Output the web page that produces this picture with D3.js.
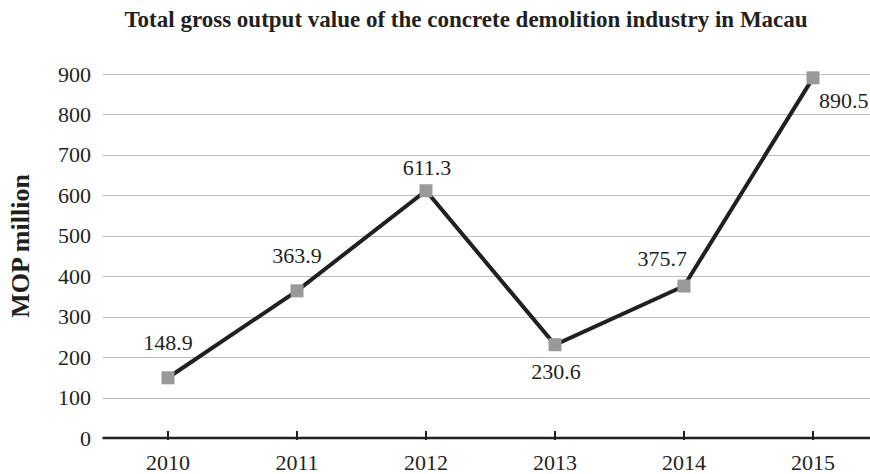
<!DOCTYPE html>
<html>
<head>
<meta charset="utf-8">
<script src="https://cdn.jsdelivr.net/npm/d3@7"></script>
<style>
  body { margin: 0; background: #fff; }
  svg { display: block; }
</style>
</head>
<body>
<div id="chart"></div>
<script>
// chart values
const years = ["2010", "2011", "2012", "2013", "2014", "2015"];
const outputValues = [148.9, 363.9, 611.3, 230.6, 375.7, 890.5];
const yTicks = [0, 100, 200, 300, 400, 500, 600, 700, 800, 900];
// where each data label sits relative to its point
const labelPlacement = ["above", "above", "aboveNear", "below", "aboveLeft", "right"];

let svgWidth = 870;
let svgHeight = 474;

let plotLeft = 103.5;
let plotRight = 877.5;
let plotTop = 74;
let plotBottom = 438;

let fontFamily = "'Liberation Serif', 'Times New Roman', serif";
let ink = "#231f20";
let numberSize = 22;

const svg = d3.select("#chart")
    .append("svg")
    .attr("width", svgWidth)
    .attr("height", svgHeight);

const x = d3.scaleBand()
    .domain(years)
    .range([plotLeft, plotRight]);

const y = d3.scaleLinear()
    .domain([0, 900])
    .range([plotBottom, plotTop]);

// gridlines
svg.append("g")
    .selectAll("line")
    .data(yTicks.filter(d => d > 0))
    .enter()
    .append("line")
    .attr("x1", plotLeft - 1)
    .attr("x2", svgWidth)
    .attr("y1", d => Math.round(y(d)) + 0.5)
    .attr("y2", d => Math.round(y(d)) + 0.5)
    .attr("stroke", "#bfbfbf")
    .attr("stroke-width", 1);

// y tick labels
svg.append("g")
    .selectAll("text")
    .data(yTicks)
    .enter()
    .append("text")
    .attr("x", 91)
    .attr("y", d => y(d))
    .attr("text-anchor", "end")
    .attr("dominant-baseline", "central")
    .attr("font-family", fontFamily)
    .attr("font-size", numberSize)
    .attr("fill", ink)
    .text(d => d);

// x axis line and ticks
svg.append("line")
    .attr("x1", plotLeft - 1)
    .attr("x2", svgWidth)
    .attr("y1", plotBottom)
    .attr("y2", plotBottom)
    .attr("stroke", ink)
    .attr("stroke-width", 2.5);

svg.append("g")
    .selectAll("line")
    .data(years)
    .enter()
    .append("line")
    .attr("x1", d => x(d) + x.bandwidth() / 2)
    .attr("x2", d => x(d) + x.bandwidth() / 2)
    .attr("y1", plotBottom - 7)
    .attr("y2", plotBottom + 2)
    .attr("stroke", ink)
    .attr("stroke-width", 2);

svg.append("g")
    .selectAll("text")
    .data(years)
    .enter()
    .append("text")
    .attr("x", d => x(d) + x.bandwidth() / 2)
    .attr("y", 470)
    .attr("text-anchor", "middle")
    .attr("font-family", fontFamily)
    .attr("font-size", numberSize)
    .attr("fill", ink)
    .text(d => d);

// line
const points = years.map((yr, i) => [x(yr) + x.bandwidth() / 2, y(outputValues[i])]);

svg.append("path")
    .attr("d", d3.line()(points))
    .attr("fill", "none")
    .attr("stroke", ink)
    .attr("stroke-width", 4)
    .attr("stroke-linejoin", "miter");

// markers
let markerSize = 13;
svg.append("g")
    .selectAll("rect")
    .data(points)
    .enter()
    .append("rect")
    .attr("x", d => d[0] - markerSize / 2)
    .attr("y", d => d[1] - markerSize / 2)
    .attr("width", markerSize)
    .attr("height", markerSize)
    .attr("fill", "#999999");

// data labels
const labelOffsets = {
    above: { dx: 0, dy: -28, anchor: "middle" },
    aboveNear: { dx: 1, dy: -16, anchor: "middle" },
    below: { dx: 1, dy: 34, anchor: "middle" },
    aboveLeft: { dx: 3, dy: -20, anchor: "end" },
    right: { dx: 6, dy: 30, anchor: "start" }
};

svg.append("g")
    .selectAll("text")
    .data(points)
    .enter()
    .append("text")
    .attr("x", (d, i) => d[0] + labelOffsets[labelPlacement[i]].dx)
    .attr("y", (d, i) => d[1] + labelOffsets[labelPlacement[i]].dy)
    .attr("text-anchor", (d, i) => labelOffsets[labelPlacement[i]].anchor)
    .attr("font-family", fontFamily)
    .attr("font-size", numberSize)
    .attr("fill", ink)
    .text((d, i) => outputValues[i].toFixed(1));

// title
svg.append("text")
    .attr("x", 466)
    .attr("y", 27)
    .attr("text-anchor", "middle")
    .attr("font-family", fontFamily)
    .attr("font-weight", "bold")
    .attr("font-size", 23)
    .attr("fill", ink)
    .text("Total gross output value of the concrete demolition industry in Macau");

// y axis title
svg.append("text")
    .attr("transform", "translate(29, 246) rotate(-90)")
    .attr("text-anchor", "middle")
    .attr("font-family", fontFamily)
    .attr("font-weight", "bold")
    .attr("font-size", 26)
    .attr("fill", ink)
    .text("MOP million");
</script>
</body>
</html>
